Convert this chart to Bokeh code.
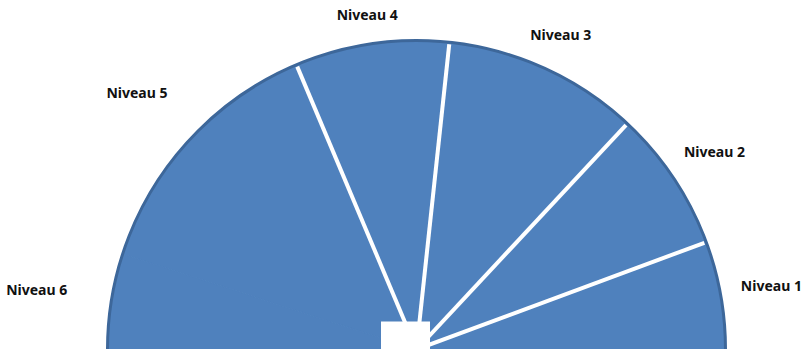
import numpy as np
from bokeh.plotting import figure
from bokeh.models import ColumnDataSource
from bokeh.core.properties import value
from bokeh.embed import file_html
from bokeh.resources import INLINE

# Data (share of the half-disc, in %)
levels = ["Niveau 1", "Niveau 2", "Niveau 3", "Niveau 4", "Niveau 5", "Niveau 6"]
shares = [11.3, 14.8, 20.5, 16.1, 27.3, 10.0]
# separators are drawn only between the first five levels (as in the source)
n_separators = 4

W, H = 811, 349
R = 310
cx, cy = 0.0, 0.0

total = sum(shares)
ang = np.cumsum([0.0] + [s / total * np.pi for s in shares])
starts, ends = ang[:-1], ang[1:]
mids = (starts + ends) / 2

p = figure(width=W, height=H, x_range=(-416, W - 416), y_range=(0, H),
           output_backend="svg", toolbar_location=None, min_border=0)
p.axis.visible = False
p.grid.visible = False
p.outline_line_color = None
p.background_fill_color = "white"

blue = "#4f81bd"
src = ColumnDataSource(dict(x=[cx] * len(levels), y=[cy] * len(levels),
                            start=starts, end=ends, level=levels))
p.wedge(x="x", y="y", radius=R - 1, start_angle="start", end_angle="end",
        fill_color=blue, line_color=blue, line_width=1, source=src)

# darker rim
p.arc(x=cx, y=cy, radius=R - 1, start_angle=0, end_angle=np.pi,
      line_color="#3d679a", line_width=3)

# white separators
b = ang[1:1 + n_separators]
p.segment(x0=[cx] * len(b), y0=[cy] * len(b),
          x1=list(cx + (R - 3) * np.cos(b)), y1=list(cy + (R - 3) * np.sin(b)),
          line_color="white", line_width=4)

# white centre block
p.rect(x=[cx - 11], y=[cy + 14], width=49, height=28, fill_color="white", line_color=None)

# labels: outside end, box centre pushed out by its extent along the radius
hw, hh = 32, 6
c, s = np.cos(mids), np.sin(mids)
gap = np.where(c >= -0.4, 18, 42)
dist = R + gap + hw * np.abs(c) + hh * np.abs(s)
lsrc = ColumnDataSource(dict(x=cx + dist * c, y=cy + dist * s, t=levels))
p.text(x="x", y="y", text="t", text_align="center", text_baseline="middle", source=lsrc,
       text_font=value("Noto Sans"), text_font_size="14px", text_font_style="bold",
       text_color="#111111")

open("out.html", "w").write(file_html(p, INLINE))
